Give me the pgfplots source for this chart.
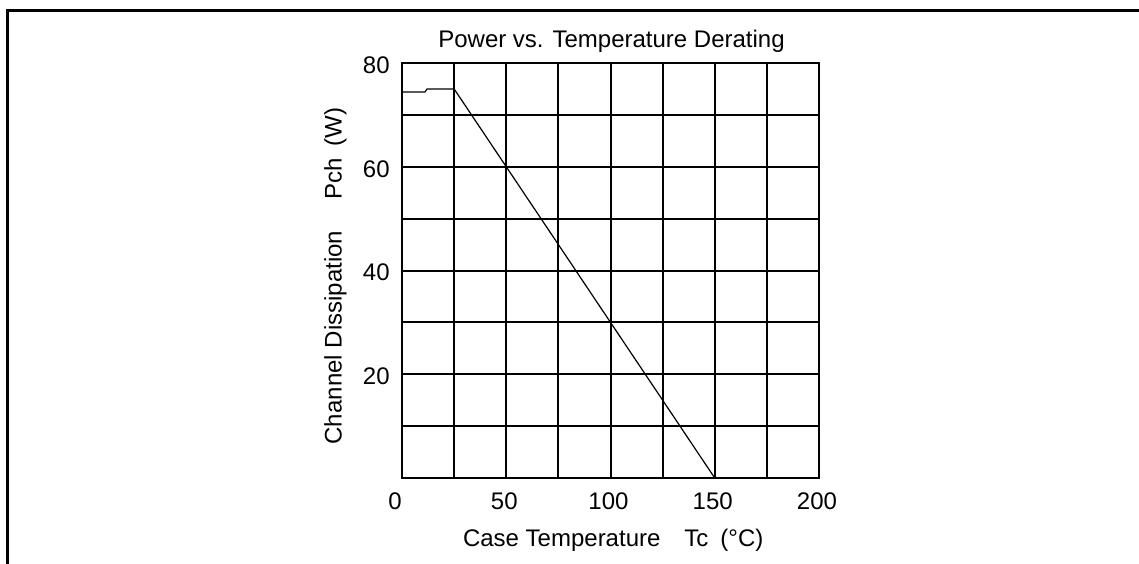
\documentclass[border=0pt]{standalone}
\usepackage{fontspec}
\setmainfont{Liberation Sans}
\usepackage{pgfplots}
\pgfplotsset{compat=1.18}
\begin{document}
\begin{tikzpicture}[font=\fontsize{12}{14.4}\selectfont, x=1pt, y=1pt]
\useasboundingbox (0,0) rectangle (569.5,281.5);
% outer frame (top and left only)
\draw[line width=1.5pt, line cap=rect] (3.5,0) -- (3.5,276.25) -- (569.5,276.25);
\begin{axis}[
  at={(201pt,42.5pt)}, anchor=south west,
  width=208.5pt, height=207.5pt, scale only axis,
  xmin=0, xmax=200, ymin=0, ymax=80,
  xtick={0,25,...,200},
  xticklabels={\makebox[0pt]{\kern-5pt 0},{},50,{},100,{},150,{},200},
  ytick={0,10,...,80},
  yticklabels={{},{},20,{},40,{},60,{},80},
  major tick length=0pt,
  grid=major,
  grid style={black, line width=1pt},
  axis line style={line width=1pt},
  /pgf/number format/assume math mode=true,
  xticklabel style={anchor=base, inner sep=0pt, yshift=-15.65pt, xshift=-1pt},
  yticklabel style={anchor=east, inner sep=0pt, xshift=-6pt, yshift=-1pt},
]
\addplot[black, line width=0.6pt] coordinates {(0,74.4) (11,74.4) (12,75) (25,75) (150,0)};
\end{axis}
\node[anchor=base] at (305.75,257.8) {Power vs. Temperature Derating};
\node[anchor=base] at (306.6,8.15) {Case Temperature\hspace{1em}Tc\hspace{0.5em}(°C)};
\node[rotate=90, anchor=base] at (170.75,143.5) {Channel Dissipation\hspace{1.3em}Pch\hspace{0.5em}(W)};
\end{tikzpicture}
\end{document}
